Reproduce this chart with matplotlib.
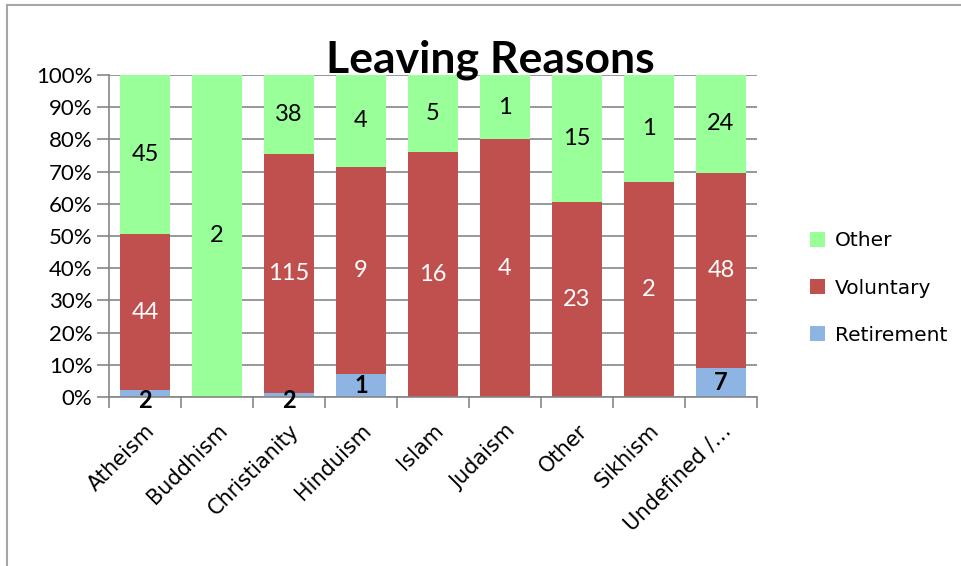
"""Leaving reasons by religion, 100% stacked columns."""

import matplotlib
matplotlib.use("Agg")
import matplotlib.pyplot as plt
import numpy as np
from matplotlib.lines import Line2D
from matplotlib.patches import Patch
from matplotlib.ticker import FuncFormatter, MultipleLocator

categories = ["Atheism", "Buddhism", "Christianity", "Hinduism", "Islam",
              "Judaism", "Other", "Sikhism", "Undefined /\u2026"]
retirement = [2, 0, 2, 1, 0, 0, 0, 0, 7]
voluntary = [44, 0, 115, 9, 16, 4, 23, 2, 48]
other = [45, 2, 38, 4, 5, 1, 15, 1, 24]

series_names = ["Retirement", "Voluntary", "Other"]
colors = {"Retirement": "#8DB4E2", "Voluntary": "#C0504D", "Other": "#99FF99"}
label_style = {
    "Retirement": dict(color="black", fontweight="bold"),
    "Voluntary": dict(color="white"),
    "Other": dict(color="black"),
}

plt.rcParams["font.family"] = ["Lato", "DejaVu Sans"]
WIDE = ["DejaVu Sans"]

fig = plt.figure(figsize=(9.62, 5.66), dpi=100)
ax = fig.add_axes([109 / 962, 1 - 397 / 566, (757 - 109) / 962, (397 - 75) / 566])

counts = np.array([retirement, voluntary, other], dtype=float)
totals = counts.sum(axis=0)
shares = counts / totals * 100
x = np.arange(len(categories))
bottom = np.zeros(len(categories))

ax.set_axisbelow(True)
ax.yaxis.grid(True, color="#868686", linewidth=1.2)

for name, vals, pct in zip(series_names, counts, shares):
    ax.bar(x, pct, width=0.69, bottom=bottom, color=colors[name], linewidth=0)
    for xi, v, p, b in zip(x, vals, pct, bottom):
        if v > 0:
            # thin bottom segments push their label down a little
            yc = b + p / 2 if p > 5 else b - 1
            ax.text(xi, yc, f"{int(v)}", ha="center", va="center",
                    fontsize=17, clip_on=False, **label_style[name])
    bottom += pct

ax.set_xlim(-0.5, len(categories) - 0.5)
ax.set_ylim(0, 100)
ax.yaxis.set_major_locator(MultipleLocator(10))
ax.yaxis.set_major_formatter(FuncFormatter(lambda v, _: f"{v:.0f}%"))
ax.tick_params(axis="y", labelsize=16, length=9, width=1.2, color="#868686", pad=3)

# category boundaries carry the x tick marks, names sit at the centres
ax.set_xticks(np.arange(len(categories) + 1) - 0.5)
ax.set_xticklabels([])
ax.tick_params(axis="x", which="major", length=8, width=1.2, color="#868686")
ax.set_xticks(x, minor=True)
ax.set_xticklabels(categories, minor=True, rotation=45, ha="right",
                   rotation_mode="anchor", fontsize=15, family=WIDE)
ax.tick_params(axis="x", which="minor", length=0, pad=17)

for side in ["top", "right"]:
    ax.spines[side].set_visible(False)
for side in ["left", "bottom"]:
    ax.spines[side].set_color("#868686")
    ax.spines[side].set_linewidth(1.2)

fig.text(490 / 962, 1 - 72 / 566, "Leaving Reasons", ha="center", va="baseline",
         fontsize=32, fontweight="bold")

handles = [Patch(facecolor=colors[n], edgecolor="none") for n in reversed(series_names)]
fig.legend(handles, list(reversed(series_names)), loc="center left",
           bbox_to_anchor=(792 / 962, 1 - 288 / 566), frameon=False,
           prop=dict(family=WIDE, size=14.5),
           handlelength=0.75, handleheight=0.75, labelspacing=1.4, handletextpad=0.5)

# outer chart frame (left and top edges)
fig.add_artist(Line2D([7 / 962, 7 / 962], [0, 1 - 5 / 566], color="#A6A6A6",
                      linewidth=1.5, transform=fig.transFigure))
fig.add_artist(Line2D([7 / 962, 1], [1 - 5 / 566, 1 - 5 / 566], color="#A6A6A6",
                      linewidth=1.5, transform=fig.transFigure))

fig.savefig("out.png", dpi=100)
